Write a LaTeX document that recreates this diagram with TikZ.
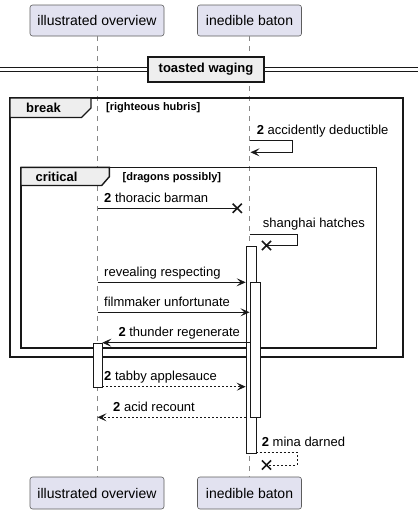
\documentclass[tikz,border=0pt]{standalone}
\usepackage{fontspec}
\setmainfont{Liberation Sans}
\usetikzlibrary{arrows.meta,calc}
\definecolor{partfill}{HTML}{E2E2F0}
\definecolor{partline}{HTML}{181818}
\definecolor{tabfill}{HTML}{EEEEEE}
\definecolor{lifegray}{HTML}{888888}
\begin{document}
\begin{tikzpicture}[x=1pt,y=-1pt,
  part/.style={draw=partline!70,fill=partfill,rounded corners=2.5pt,line width=0.6pt,
    font=\fontsize{14}{16}\selectfont,inner sep=0pt},
  lifeline/.style={draw=lifegray,dash pattern=on 5pt off 5pt,line width=0.6pt},
  actbox/.style={draw=partline,fill=white,line width=0.8pt},
  msg/.style={draw=partline,line width=0.8pt},
  tip/.style={-{Stealth[length=9pt,width=8pt,inset=4pt]}},
  retmsg/.style={draw=partline,line width=0.8pt,dash pattern=on 2pt off 2pt},
  lbl/.style={anchor=west,inner sep=0pt,font=\fontsize{13}{15}\selectfont,text height=9.5pt,text depth=2.5pt},
  xmark/.style={draw=partline,line width=1.6pt},
  frame/.style={draw=partline,line width=1.4pt},
  tabshape/.style={draw=partline,fill=tabfill,line width=1.4pt},
  tabtxt/.style={inner sep=0pt,font=\bfseries\fontsize{13}{15}\selectfont},
  guard/.style={anchor=west,inner sep=0pt,font=\bfseries\fontsize{11}{13}\selectfont},
]
\useasboundingbox (0,0) rectangle (418,514);

% participants
\node[part,minimum width=134pt,minimum height=31pt] (ov) at (97,20.5) {illustrated overview};
\node[part,minimum width=104pt,minimum height=31pt] (ib) at (249.5,20.5) {inedible baton};
\node[part,minimum width=134pt,minimum height=32pt] (ovb) at (97,493) {illustrated overview};
\node[part,minimum width=104pt,minimum height=32pt] (ibb) at (249.5,493) {inedible baton};

\coordinate (ovt) at (97.5,36);
\coordinate (ovbt) at (97.5,477);
\coordinate (ibt) at (249.5,36);
\coordinate (ibbt) at (249.5,477);
\draw[lifeline] (ovt) -- (ovbt);
\draw[lifeline] (ibt) -- (ibbt);

% divider
\coordinate (dl) at (0,67.8);
\coordinate (dr) at (418,67.8);
\coordinate (dl2) at (0,71.4);
\coordinate (dr2) at (418,71.4);
\draw[partline,line width=1pt] (dl) -- (dr);
\draw[partline,line width=1pt] (dl2) -- (dr2);
\node[draw=partline,fill=tabfill,line width=1.6pt,minimum width=116pt,minimum height=25pt,inner sep=0pt,
  font=\bfseries\fontsize{13}{15}\selectfont] (div) at (206,69.5) {toasted waging};

% break frame
\draw[frame] (10,98) rectangle (403,357);
\draw[tabshape] (10,98) -- (91,98) -- (91,108) -- (81.5,117.5) -- (10,117.5) -- cycle;
\node[tabtxt] (brk) at (43.5,108) {break};
\node[guard] (g1) at (106,108) {[righteous hubris]};

% critical frame
\draw[frame] (21,167.3) rectangle (376.7,348);
\draw[tabshape] (21,167.3) -- (109.3,167.3) -- (109.3,176.7) -- (101.7,185.5) -- (21,185.5) -- cycle;
\node[tabtxt] (crit) at (56.5,177.3) {critical};
\node[guard] (g2) at (122.5,178) {[dragons possibly]};

% activations
\node[actbox,minimum width=10pt,minimum height=207.3pt,inner sep=0pt,anchor=north west] (actA) at (245.7,246) {};
\node[actbox,minimum width=10pt,minimum height=135pt,inner sep=0pt,anchor=north west] (actB) at (250.3,282.3) {};
\node[actbox,minimum width=9.6pt,minimum height=44pt,inner sep=0pt,anchor=north west] (actC) at (92.7,342.7) {};

% 1 accidently deductible (self)
\coordinate (m1a) at (249.5,140);
\coordinate (m1b) at (292.7,140);
\coordinate (m1c) at (292.7,152.3);
\coordinate (m1d) at (250.5,152.3);
\draw[msg,tip] (m1a) -- (m1b) -- (m1c) -- (m1d);
\node[lbl] (t1) at (256.7,130.5) {\textbf{2} accidently deductible};

% 2 thoracic barman (lost, X)
\coordinate (m2a) at (97.5,208.3);
\coordinate (m2b) at (237.3,208.3);
\draw[msg] (m2a) -- (m2b);
\draw[xmark] ($(m2b)+(-4.6,-4.6)$) -- ($(m2b)+(4.6,4.6)$) ($(m2b)+(-4.6,4.6)$) -- ($(m2b)+(4.6,-4.6)$);
\node[lbl] (t2) at (104,199) {\textbf{2} thoracic barman};

% 3 shanghai hatches (self, X)
\coordinate (m3a) at (249.5,234);
\coordinate (m3b) at (297,234);
\coordinate (m3c) at (297,245.5);
\coordinate (m3d) at (266.5,245.5);
\draw[msg] (m3a) -- (m3b) -- (m3c) -- (m3d);
\draw[xmark] ($(m3d)+(-4.6,-4.6)$) -- ($(m3d)+(4.6,4.6)$) ($(m3d)+(-4.6,4.6)$) -- ($(m3d)+(4.6,-4.6)$);
\node[lbl] (t3) at (262.7,224) {shanghai hatches};

% 4 revealing respecting
\coordinate (m4a) at (97.5,282.3);
\coordinate (m4b) at (245.7,282.3);
\draw[msg,tip] (m4a) -- (m4b);
\node[lbl] (t4) at (104,272.5) {revealing respecting};

% 5 filmmaker unfortunate
\coordinate (m5a) at (97.5,312.3);
\coordinate (m5b) at (249.5,312.3);
\draw[msg,tip] (m5a) -- (m5b);
\node[lbl] (t5) at (104,302.5) {filmmaker unfortunate};

% 6 thunder regenerate
\coordinate (m6a) at (250.3,342.7);
\coordinate (m6b) at (102.3,342.7);
\draw[msg,tip] (m6a) -- (m6b);
\node[lbl] (t6) at (118.3,333) {\textbf{2} thunder regenerate};

% 7 tabby applesauce
\coordinate (m7a) at (102.3,386.7);
\coordinate (m7b) at (245.7,386.7);
\draw[retmsg,tip] (m7a) -- (m7b);
\node[lbl] (t7) at (104,377) {\textbf{2} tabby applesauce};

% 8 acid recount
\coordinate (m8a) at (245.7,417.3);
\coordinate (m8b) at (97.5,417.3);
\draw[retmsg,tip] (m8a) -- (m8b);
\node[lbl] (t8) at (113,408) {\textbf{2} acid recount};

% 9 mina darned (self, X)
\coordinate (m9a) at (255.7,452.3);
\coordinate (m9b) at (297,452.3);
\coordinate (m9c) at (297,465);
\coordinate (m9d) at (266.5,465);
\draw[retmsg] (m9a) -- (m9b) -- (m9c) -- (m9d);
\draw[xmark] ($(m9d)+(-4.6,-4.6)$) -- ($(m9d)+(4.6,4.6)$) ($(m9d)+(-4.6,4.6)$) -- ($(m9d)+(4.6,-4.6)$);
\node[lbl] (t9) at (261.7,442.5) {\textbf{2} mina darned};
\end{tikzpicture}
\end{document}
